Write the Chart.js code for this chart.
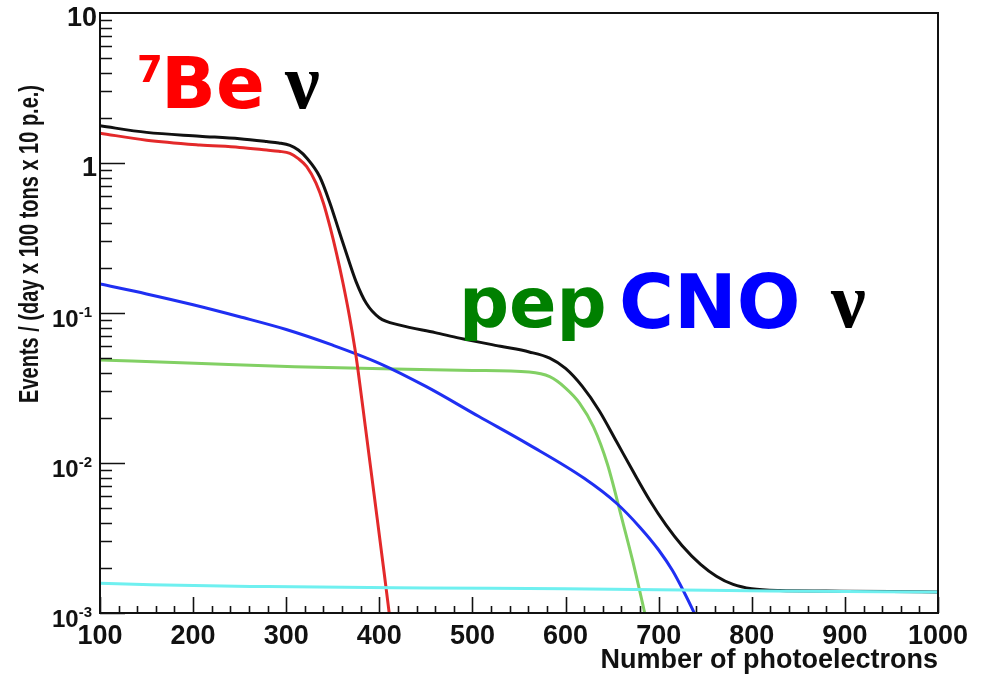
<!DOCTYPE html>
<html>
<head>
<meta charset="utf-8">
<script src="https://cdn.jsdelivr.net/npm/chart.js@4/dist/chart.umd.min.js"></script>
<style>
    html, body { margin: 0; padding: 0; background: #fff; }
    #spectrum { display: block; }
</style>
</head>
<body>
<canvas id="spectrum" width="989" height="676"></canvas>
<script>
// 계산된 스펙트럼 (photoelectrons 별 이벤트 수)
const be7X = [100, 150, 207, 250, 279, 292, 304, 313, 322, 332, 340, 347, 354, 361, 368, 374, 377, 385, 395, 405, 412];
const be7Y = [1.58, 1.42, 1.32, 1.27, 1.22, 1.197, 1.16, 1.07, 0.945, 0.733, 0.539, 0.376, 0.250, 0.158, 0.0945, 0.0566, 0.042, 0.0174, 0.00575, 0.00189, 0.00085];

const cnoX = [100, 150, 200, 250, 300, 350, 400, 450, 507, 561, 620, 655, 680, 700, 715, 728, 736, 745];
const cnoY = [0.156, 0.134, 0.1135, 0.0944, 0.0776, 0.061, 0.0462, 0.0324, 0.0204, 0.0132, 0.0079, 0.00537, 0.00372, 0.00263, 0.00191, 0.00135, 0.00107, 0.00081];

const pepX = [100, 202, 309, 416, 500, 561, 583, 600, 615, 630, 645, 660, 672, 685, 690];
const pepY = [0.0486, 0.0462, 0.0438, 0.0423, 0.0414, 0.0404, 0.0376, 0.0316, 0.0251, 0.0174, 0.0098, 0.00437, 0.00224, 0.0010, 0.00072];

const bgX = [100, 155, 280, 450, 600, 700, 820, 1000];
const bgY = [0.00158, 0.00154, 0.00150, 0.00147, 0.00145, 0.00143, 0.00140, 0.00138];

const totalX = [100, 150, 207, 250, 279, 292, 304, 313, 322, 336, 347, 357, 366, 375, 386, 400, 422, 460, 486, 530, 561, 583, 600, 618, 636, 655, 672, 690, 708, 725, 745, 762, 780, 800, 830, 880, 950, 1000];
const totalY = [1.77, 1.60, 1.51, 1.45, 1.39, 1.36, 1.31, 1.22, 1.08, 0.81, 0.54, 0.348, 0.235, 0.162, 0.116, 0.093, 0.083, 0.074, 0.068, 0.060, 0.055, 0.050, 0.0427, 0.0324, 0.0224, 0.0138, 0.0089, 0.00569, 0.00385, 0.00282, 0.00211, 0.00176, 0.00155, 0.00145, 0.00141, 0.0014, 0.00139, 0.00138];

// 축 눈금
const xTickLabels = [100, 200, 300, 400, 500, 600, 700, 800, 900, 1000];
const yTickValues = [10, 1, 0.1, 0.01, 0.001];
const yTickBase = ['10', '1', '10', '10', '10'];
const yTickExp = ['', '', '-1', '-2', '-3'];

function toPoints(xs, ys) {
    return xs.map((x, i) => ({ x: x, y: ys[i] }));
}

function makeSet(label, xs, ys, color) {
    return {
        label: label,
        data: toPoints(xs, ys),
        borderColor: color,
        borderWidth: 3,
        pointRadius: 0,
        fill: false,
        cubicInterpolationMode: 'monotone'
    };
}

// 프레임 + 안쪽 눈금 + 눈금 라벨
const frameTicks = {
    id: 'frameTicks',
    afterDatasetsDraw(chart) {
        const ctx = chart.ctx;
        const a = chart.chartArea;
        const xs = chart.scales.x;
        const ys = chart.scales.y;
        ctx.save();
        ctx.strokeStyle = '#111';
        ctx.lineWidth = 2;
        ctx.strokeRect(a.left, a.top, a.right - a.left, a.bottom - a.top);

        ctx.lineWidth = 1.6;
        ctx.beginPath();
        // x 눈금 (20 단위 보조)
        for (let v = 100; v <= 1000; v += 20) {
            const px = Math.round(xs.getPixelForValue(v)) + 0.5;
            const len = (v % 100 === 0) ? 16 : 7;
            ctx.moveTo(px, a.bottom);
            ctx.lineTo(px, a.bottom - len);
        }
        // y 눈금 (log)
        for (let e = -3; e < 1; e++) {
            for (let m = 1; m <= 9; m++) {
                const v = m * Math.pow(10, e);
                const py = Math.round(ys.getPixelForValue(v)) + 0.5;
                const len = (m === 1) ? 25 : 12;
                ctx.moveTo(a.left, py);
                ctx.lineTo(a.left + len, py);
            }
        }
        ctx.stroke();

        ctx.fillStyle = '#111';
        ctx.font = 'bold 27px "Liberation Sans", Arial, sans-serif';
        ctx.textAlign = 'center';
        ctx.textBaseline = 'alphabetic';
        xTickLabels.forEach(v => {
            ctx.fillText(String(v), xs.getPixelForValue(v), a.bottom + 31);
        });

        ctx.textAlign = 'right';
        yTickValues.forEach((v, i) => {
            const py = ys.getPixelForValue(v);
            if (yTickExp[i]) {
                ctx.font = 'bold 15px "Liberation Sans", Arial, sans-serif';
                ctx.fillText(yTickExp[i], 92, py + 4);
                const w = ctx.measureText(yTickExp[i]).width;
                ctx.font = 'bold 24px "Liberation Sans", Arial, sans-serif';
                ctx.fillText(yTickBase[i], 92 - w, py + 14);
            } else {
                ctx.font = 'bold 27px "Liberation Sans", Arial, sans-serif';
                ctx.fillText(yTickBase[i], 97, py + 13);
            }
        });

        // 축 제목
        ctx.font = 'bold 27px "Liberation Sans", Arial, sans-serif';
        ctx.textAlign = 'right';
        ctx.fillText('Number of photoelectrons', a.right, 668);

        ctx.save();
        ctx.translate(38, 85);
        ctx.scale(1.35, 1);
        ctx.rotate(-Math.PI / 2);
        ctx.font = 'bold 20px "Liberation Sans", Arial, sans-serif';
        ctx.textAlign = 'right';
        ctx.fillText('Events / (day x 100 tons x 10 p.e.)', 0, 0);
        ctx.restore();
        ctx.restore();
    }
};

// 성분 라벨
const sourceLabels = {
    id: 'sourceLabels',
    afterDraw(chart) {
        const ctx = chart.ctx;
        ctx.save();
        ctx.textAlign = 'left';
        ctx.textBaseline = 'alphabetic';
        const sans = '"DejaVu Sans", Verdana, sans-serif';
        const serif = '"Liberation Serif", "Times New Roman", serif';

        ctx.fillStyle = '#ff0000';
        ctx.font = 'bold 37px ' + sans;
        ctx.fillText('7', 137, 82);
        ctx.font = 'bold 72px ' + sans;
        ctx.fillText('Be', 161, 108);
        ctx.fillStyle = '#000';
        ctx.font = 'bold 78px ' + serif;
        ctx.fillText('ν', 285, 108);

        ctx.fillStyle = '#008000';
        ctx.font = 'bold 70px ' + sans;
        ctx.fillText('pep', 459, 327);
        ctx.fillStyle = '#0000ff';
        ctx.font = 'bold 75px ' + sans;
        ctx.fillText('CNO', 619, 328);
        ctx.fillStyle = '#000';
        ctx.font = 'bold 78px ' + serif;
        ctx.fillText('ν', 831, 327);
        ctx.restore();
    }
};

const chart = new Chart(document.getElementById('spectrum'), {
    type: 'line',
    data: {
        datasets: [
            makeSet('bg', bgX, bgY, '#6ff0f0'),
            makeSet('7Be', be7X, be7Y, '#e3292a'),
            makeSet('total', totalX, totalY, '#111111'),
            makeSet('CNO', cnoX, cnoY, '#1f2ff2'),
            makeSet('pep', pepX, pepY, '#82d064')
        ]
    },
    options: {
        responsive: false,
        animation: false,
        layout: { padding: { left: 100, right: 51, top: 13, bottom: 63 } },
        scales: {
            x: { type: 'linear', min: 100, max: 1000, display: false },
            y: { type: 'logarithmic', min: 0.001, max: 10, display: false }
        },
        plugins: {
            legend: { display: false },
            tooltip: { enabled: false }
        }
    },
    plugins: [frameTicks, sourceLabels]
});
</script>
</body>
</html>
